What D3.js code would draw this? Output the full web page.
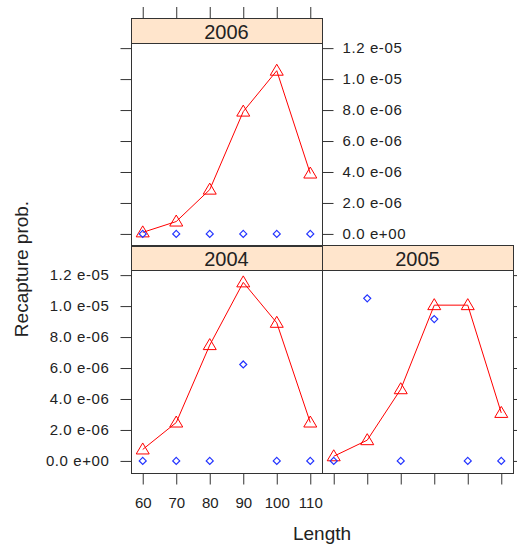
<!DOCTYPE html>
<html>
<head>
<meta charset="utf-8">
<script src="https://cdn.jsdelivr.net/npm/d3@7"></script>
<style>
  body { margin: 0; background: #fff; }
  svg text { font-family: "Liberation Sans", Arial, sans-serif; fill: #222; }
</style>
</head>
<body>
<div id="chart"></div>
<script>
// data
var lengths = [60, 70, 80, 90, 100, 110];
var years = ["2004", "2005", "2006"];
var fit2004 = [0.74e-6, 2.48e-6, 7.48e-6, 11.53e-6, 8.92e-6, 2.48e-6];
var fit2005 = [0.30e-6, 1.34e-6, 4.63e-6, 10.06e-6, 10.06e-6, 3.10e-6];
var fit2006 = [0.10e-6, 0.80e-6, 2.86e-6, 7.90e-6, 10.54e-6, 3.90e-6];
var obs2004 = [0, 0, 0, 6.23e-6, 0, 0];
var obs2005 = [0, 10.5e-6, 0, 9.16e-6, 0, 0];
var obs2006 = [0, 0, 0, 0, 0, 0];
var yTicks = [0, 2e-6, 4e-6, 6e-6, 8e-6, 10e-6, 12e-6];
var yTickLabels = ["0.0 e+00", "2.0 e-06", "4.0 e-06", "6.0 e-06", "8.0 e-06", "1.0 e-05", "1.2 e-05"];

var fits = {"2004": fit2004, "2005": fit2005, "2006": fit2006};
var obs = {"2004": obs2004, "2005": obs2005, "2006": obs2006};

var width = 517, height = 550,
    left = 131, panelW = 191, panelH = 203, stripH = 25,
    tops = [270, 43]; // bottom row, top row (panel tops)

// panel positions (col, row) like lattice: 2004 bottom-left, 2005 bottom-right, 2006 top-left
var layout = {"2004": {col: 0, row: 0}, "2005": {col: 1, row: 0}, "2006": {col: 0, row: 1}};

var x = d3.scaleLinear().domain([56.5, 113.5]).range([0, panelW]);
var y = d3.scaleLinear().domain([-0.78e-6, 12.33e-6]).range([panelH, 0]);

var line = d3.line()
    .x(function(d) { return x(d.len); })
    .y(function(d) { return y(d.value); });

var svg = d3.select("#chart").append("svg")
    .attr("width", width)
    .attr("height", height);

function styleAxis(g) {
  g.select(".domain").remove();
  g.selectAll("line").attr("stroke", "#333");
  g.selectAll("text").style("font-size", "15px");
}

years.forEach(function(yr) {
  var pos = layout[yr];
  var px = left + pos.col * panelW, py = tops[pos.row];
  var g = svg.append("g").attr("transform", "translate(" + px + "," + py + ")");

  // strip
  g.append("rect")
      .attr("x", 0.5).attr("y", -stripH + 0.5)
      .attr("width", panelW).attr("height", stripH)
      .attr("fill", "#ffe5cc").attr("stroke", "#333");
  g.append("text")
      .attr("x", panelW / 2).attr("y", -4)
      .attr("text-anchor", "middle")
      .style("font-size", "20px")
      .text(yr);

  // panel box
  g.append("rect")
      .attr("x", 0.5).attr("y", 0.5)
      .attr("width", panelW).attr("height", panelH)
      .attr("fill", "none").attr("stroke", "#333");

  var fitData = lengths.map(function(l, i) { return {len: l, value: fits[yr][i]}; });
  var obsData = lengths.map(function(l, i) { return {len: l, value: obs[yr][i]}; });

  g.append("path")
      .datum(fitData)
      .attr("d", line)
      .attr("fill", "none")
      .attr("stroke", "#ff0000")
      .attr("stroke-width", 1);

  g.selectAll(".tri").data(fitData).enter()
    .append("path")
      .attr("class", "tri")
      .attr("transform", function(d) { return "translate(" + x(d.len) + "," + y(d.value) + ")"; })
      .attr("d", "M0,-6.5L6.5,4.5L-6.5,4.5Z")
      .attr("fill", "none")
      .attr("stroke", "#ff0000")
      .attr("stroke-width", 1);

  g.selectAll(".dia").data(obsData).enter()
    .append("path")
      .attr("class", "dia")
      .attr("transform", function(d) { return "translate(" + x(d.len) + "," + y(d.value) + ")"; })
      .attr("d", "M0,-3.5L3.5,0L0,3.5L-3.5,0Z")
      .attr("fill", "none")
      .attr("stroke", "#2233ff")
      .attr("stroke-width", 1.2);

  // axes, alternating like lattice
  if (pos.row === 0) {
    g.append("g")
        .attr("transform", "translate(0," + (panelH + 0.5) + ")")
        .call(d3.axisBottom(x).tickValues(lengths).tickSize(11).tickPadding(13)
          .tickFormat(pos.col === 0 ? d3.format("d") : ""))
        .call(styleAxis);
  } else {
    g.append("g")
        .attr("transform", "translate(0," + (-stripH) + ")")
        .call(d3.axisTop(x).tickValues(lengths).tickSize(11).tickFormat(""))
        .call(styleAxis);
  }
  if (pos.col === 0) {
    g.append("g")
        .attr("transform", "translate(0.5,0)")
        .call(d3.axisLeft(y).tickValues(yTicks).tickSize(11).tickPadding(11)
          .tickFormat(function(d, i) { return pos.row === 0 ? yTickLabels[i] : ""; }))
        .call(styleAxis)
        .selectAll("text").style("letter-spacing", "0.6px");
  }
  if (pos.col === 1 || pos.row === 1) {
    g.append("g")
        .attr("transform", "translate(" + (panelW + 0.5) + ",0)")
        .call(d3.axisRight(y).tickValues(yTicks).tickSize(11).tickPadding(9)
          .tickFormat(function(d, i) { return pos.row === 1 ? yTickLabels[i] : ""; }))
        .call(styleAxis)
        .selectAll("text").style("letter-spacing", "0.6px");
  }
});

// axis titles
svg.append("text")
    .attr("x", left + panelW)
    .attr("y", 540)
    .attr("text-anchor", "middle")
    .style("font-size", "19px")
    .text("Length");

svg.append("text")
    .attr("transform", "translate(28,269) rotate(-90)")
    .attr("text-anchor", "middle")
    .style("font-size", "19px")
    .text("Recapture prob.");
</script>
</body>
</html>
